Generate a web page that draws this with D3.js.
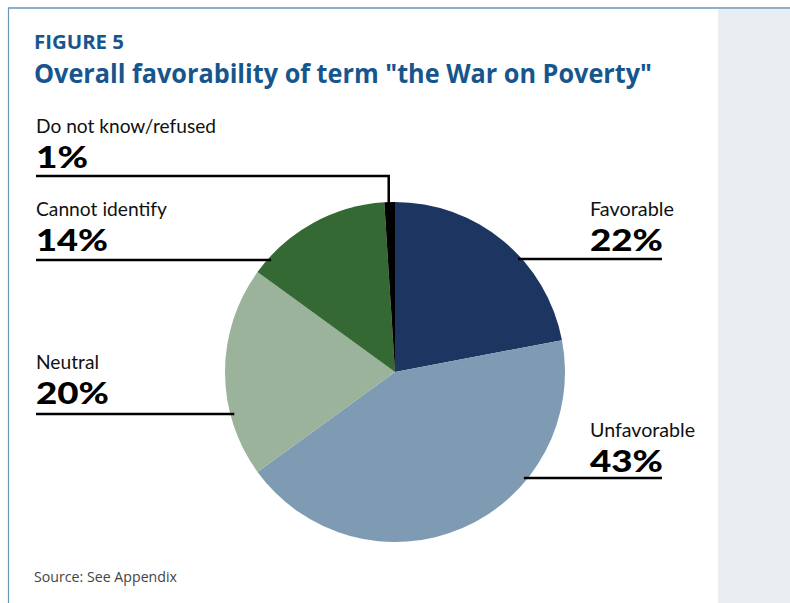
<!DOCTYPE html>
<html>
<head>
<meta charset="utf-8">
<script src="https://cdn.jsdelivr.net/npm/d3@7"></script>
<style>
  html, body { margin: 0; padding: 0; background: #fff; }
  svg { display: block; }
</style>
</head>
<body>
<script>
// Survey responses on the term "the War on Poverty" (percent)
const categories = ["Favorable", "Unfavorable", "Neutral", "Cannot identify", "Do not know/refused"];
const values = [22, 43, 20, 14, 1];
const sliceColors = ["#1c3661", "#7f9ab3", "#9ab39a", "#356934", "#000000"];
const valueLabels = ["22%", "43%", "20%", "14%", "1%"];

const W = 790, H = 603;
const svg = d3.select("body").append("svg").attr("width", W).attr("height", H);

// frame: top rule, left rule and grey side panel
svg.append("rect").attr("x", 718).attr("y", 9).attr("width", W - 718).attr("height", H - 9).attr("fill", "#e9eef3");
svg.append("line").attr("x1", 8).attr("x2", W).attr("y1", 8).attr("y2", 8).attr("stroke", "#6a96b8").attr("stroke-width", 1.6);
svg.append("line").attr("x1", 8.5).attr("x2", 8.5).attr("y1", 8).attr("y2", H).attr("stroke", "#6a96b8").attr("stroke-width", 1.2);

const headFont = "'Open Sans', 'Noto Sans', sans-serif";
const labelFont = "Lato, 'Open Sans', sans-serif";
function txt(s, x, y, size, weight, color, width, family) {
  const t = svg.append("text").attr("x", x).attr("y", y).text(s)
    .attr("font-family", family || headFont).attr("font-size", size).attr("font-weight", weight)
    .attr("fill", color);
  if (width) t.attr("textLength", width).attr("lengthAdjust", "spacingAndGlyphs");
  return t;
}

txt("FIGURE 5", 34, 49, 19, 700, "#17568c", 90);
txt("Overall favorability of term \"the War on Poverty\"", 34, 83, 27, 700, "#17568c", 618);
txt("Source: See Appendix", 34, 582, 14.5, 400, "#444", 143);

// pie
const cx = 395, cy = 372, r = 170;
const pie = d3.pie().sort(null).value(d => d)(values);
const arc = d3.arc().innerRadius(0).outerRadius(r);
const g = svg.append("g").attr("transform", `translate(${cx},${cy})`);
g.selectAll("path").data(pie).join("path")
  .attr("d", arc)
  .attr("fill", (d, i) => sliceColors[i]);

// label layout: side, baseline of the name, leader rule height
const labelSpec = [
  { side: "right", nameY: 216, ruleY: 259, nameW: 84, valW: 73 },
  { side: "right", nameY: 437, ruleY: 478, nameW: 105, valW: 73 },
  { side: "left", nameY: 369, ruleY: 414, nameW: 63, valW: 73 },
  { side: "left", nameY: 216, ruleY: 260, nameW: 131, valW: 72 },
  { side: "left", nameY: 133, ruleY: 176, nameW: 180, valW: 52, elbow: true }
];

labelSpec.forEach((s, i) => {
  const x = s.side === "right" ? 590 : 36;
  txt(categories[i], x, s.nameY, 19, 400, "#111", s.nameW, labelFont);
  txt(valueLabels[i], x, s.nameY + 35, 31, 900, "#000", s.valW, labelFont);

  let path;
  if (s.elbow) {
    // leader drops into the thin slice from above
    const mid = (pie[i].startAngle + pie[i].endAngle) / 2;
    const ex = cx + (r - 2) * Math.sin(mid) - 1;
    path = `M${x},${s.ruleY}H${ex}V${cy - r + 4}`;
  } else {
    const dy = s.ruleY - cy;
    const dx = Math.sqrt(r * r - dy * dy);
    if (s.side === "right") path = `M${cx + dx - 4},${s.ruleY}H662`;
    else path = `M${x},${s.ruleY}H${cx - dx + 4}`;
  }
  svg.append("path").attr("d", path).attr("fill", "none")
    .attr("stroke", "#000").attr("stroke-width", 2.5);
});
</script>
</body>
</html>
